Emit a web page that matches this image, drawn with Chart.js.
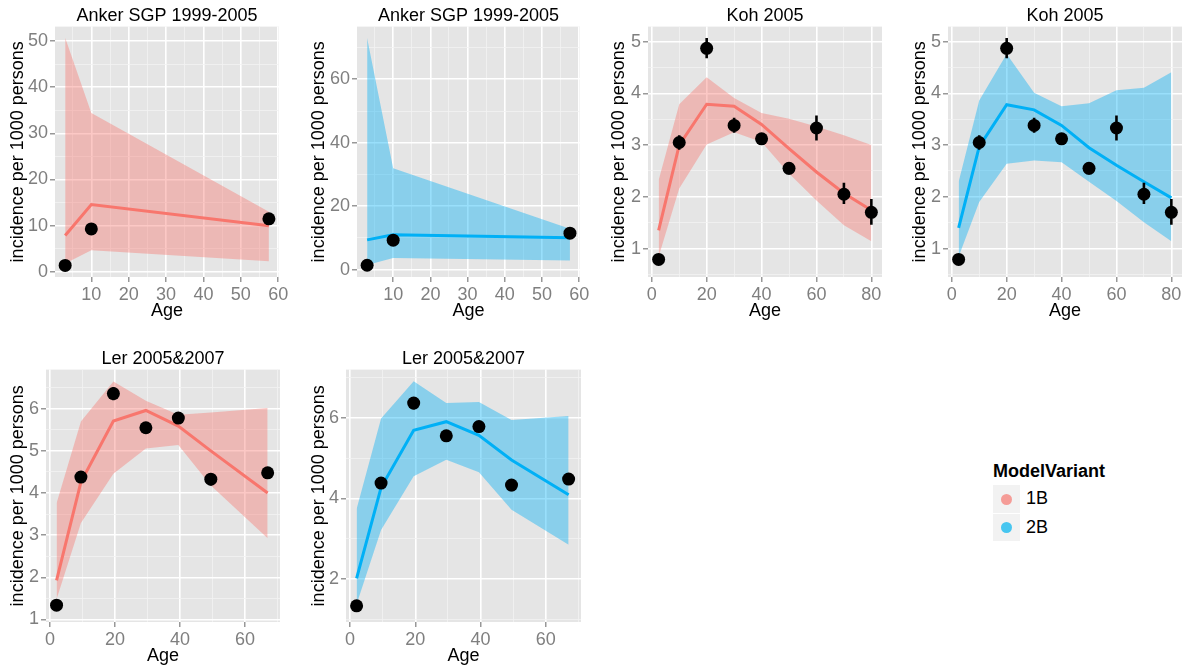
<!DOCTYPE html>
<html><head><meta charset="utf-8">
<script src="https://cdn.jsdelivr.net/npm/chart.js@4.4.0/dist/chart.umd.min.js"></script>
<style>
body{margin:0;background:#fff;width:1188px;height:669px;position:relative;overflow:hidden;font-family:"Liberation Sans",Arial,sans-serif;}
.pc{position:absolute;}
.lg{position:absolute;font-size:18px;line-height:21px;color:#000;white-space:nowrap;}
.key{position:absolute;background:#F2F2F2;width:27px;}
.dot{position:absolute;width:11px;height:11px;border-radius:50%;left:8px;}
</style></head><body>
<div class="lg" style="left:993px;top:461px;font-weight:bold;">ModelVariant</div>
<div class="key" style="left:993px;top:485px;height:28px;"><div class="dot" style="top:8.5px;background:#F59C97;"></div></div>
<div class="lg" style="left:1026px;top:488px;">1B</div>
<div class="key" style="left:993px;top:514px;height:27px;"><div class="dot" style="top:8px;background:#47C6F0;"></div></div>
<div class="lg" style="left:1026px;top:517px;">2B</div>
<script>
// ---------- data ----------
const ankerAge = [3, 10, 57.5];
const ankerObs = [1.4, 9.3, 11.5];
const ankerObsLo = [1.2, 9.0, 11.2];
const ankerObsHi = [1.6, 9.6, 11.8];
const anker1B_mid = [7.9, 14.6, 10.0];
const anker1B_lo = [1.8, 4.7, 2.3];
const anker1B_hi = [50.7, 34.4, 13.0];
const anker2B_mid = [9.4, 11.0, 10.1];
const anker2B_lo = [1.5, 3.7, 2.9];
const anker2B_hi = [73.0, 32.0, 12.9];

const kohAge = [2.5, 10, 20, 30, 40, 50, 60, 70, 80];
const kohObs = [0.79, 3.05, 4.87, 3.38, 3.12, 2.55, 3.33, 2.05, 1.70];
const kohObsLo = [0.72, 2.91, 4.68, 3.24, 3.01, 2.43, 3.09, 1.86, 1.46];
const kohObsHi = [0.86, 3.19, 5.07, 3.53, 3.23, 2.67, 3.57, 2.27, 1.96];
const koh1B_mid = [1.35, 3.0, 3.79, 3.75, 3.40, 2.93, 2.48, 2.07, 1.74];
const koh1B_lo = [0.84, 2.16, 3.01, 3.25, 3.06, 2.45, 1.93, 1.45, 1.14];
const koh1B_hi = [2.32, 3.79, 4.31, 3.91, 3.62, 3.51, 3.36, 3.19, 3.0];
const koh2B_mid = [1.40, 2.97, 3.78, 3.68, 3.38, 2.95, 2.61, 2.29, 1.98];
const koh2B_lo = [0.84, 1.90, 2.64, 2.70, 2.67, 2.29, 1.92, 1.51, 1.14];
const koh2B_hi = [2.29, 3.86, 4.76, 4.01, 3.75, 3.81, 4.06, 4.11, 4.41];

const lerAge = [2, 9.5, 19.5, 29.5, 39.5, 49.5, 67];
const lerObs = [1.34, 4.38, 6.36, 5.55, 5.78, 4.33, 4.48];
const lerObsLo = [1.24, 4.24, 6.20, 5.46, 5.66, 4.18, 4.37];
const lerObsHi = [1.48, 4.50, 6.51, 5.66, 5.92, 4.46, 4.58];
const ler1B_mid = [1.93, 4.26, 5.71, 5.96, 5.59, 5.0, 4.0];
const ler1B_lo = [1.48, 3.29, 4.46, 5.06, 5.14, 4.18, 2.93];
const ler1B_hi = [3.76, 5.70, 6.65, 6.19, 5.86, 5.91, 6.02];
const ler2B_mid = [2.02, 4.27, 5.69, 5.90, 5.56, 4.95, 4.09];
const ler2B_lo = [1.38, 3.22, 4.55, 4.96, 4.65, 3.72, 2.85];
const ler2B_hi = [3.74, 5.98, 6.90, 6.36, 6.39, 5.94, 6.04];

// tick labels
const ankerXTicks = [10, 20, 30, 40, 50, 60];
const anker1BYTicks = [0, 10, 20, 30, 40, 50];
const anker2BYTicks = [0, 20, 40, 60];
const kohXTicks = [0, 20, 40, 60, 80];
const kohYTicks = [1, 2, 3, 4, 5];
const lerXTicks = [0, 20, 40, 60];
const ler1BYTicks = [1, 2, 3, 4, 5, 6];
const ler2BYTicks = [2, 4, 6];

const modelNames = ['1B', '2B'];
const xTitle = 'Age';
const yTitle = 'incidence per 1000 persons';

// ---------- styling / layout ----------
const FONT = '"Liberation Sans", Arial, sans-serif';
Chart.defaults.font.family = FONT;
const COL = {
  '1B': {line: '#F8766D', fill: 'rgba(248,118,109,0.4)'},
  '2B': {line: '#00B0F6', fill: 'rgba(0,176,246,0.4)'}
};

function minorsOf(major, min, max) {
  const step = major[1] - major[0];
  const out = [];
  for (let v = major[0] - step / 2; v <= max + 1e-9; v += step) {
    if (v >= min - 1e-9) out.push(+v.toFixed(6));
  }
  return out;
}

const panels = [
  {title: 'Anker SGP 1999-2005', model: '1B', age: ankerAge, obs: ankerObs, obsLo: ankerObsLo, obsHi: ankerObsHi,
   mid: anker1B_mid, lo: anker1B_lo, hi: anker1B_hi, xT: ankerXTicks, yT: anker1BYTicks,
   box: {L: 55, T: 26.5, R: 279, B: 277, tc: 17.5}, xr: [0.28, 60.2], yr: [-1.1, 53.1]},
  {title: 'Anker SGP 1999-2005', model: '2B', age: ankerAge, obs: ankerObs, obsLo: ankerObsLo, obsHi: ankerObsHi,
   mid: anker2B_mid, lo: anker2B_lo, hi: anker2B_hi, xT: ankerXTicks, yT: anker2BYTicks,
   box: {L: 357, T: 26.5, R: 580, B: 277, tc: 319}, xr: [0.28, 60.2], yr: [-2.3, 76.6]},
  {title: 'Koh 2005', model: '1B', age: kohAge, obs: kohObs, obsLo: kohObsLo, obsHi: kohObsHi,
   mid: koh1B_mid, lo: koh1B_lo, hi: koh1B_hi, xT: kohXTicks, yT: kohYTicks,
   box: {L: 648, T: 26.5, R: 882, B: 277, tc: 619}, xr: [-1.375, 83.875], yr: [0.45, 5.29]},
  {title: 'Koh 2005', model: '2B', age: kohAge, obs: kohObs, obsLo: kohObsLo, obsHi: kohObsHi,
   mid: koh2B_mid, lo: koh2B_lo, hi: koh2B_hi, xT: kohXTicks, yT: kohYTicks,
   box: {L: 948, T: 26.5, R: 1182, B: 277, tc: 920}, xr: [-1.375, 83.875], yr: [0.45, 5.29]},
  {title: 'Ler 2005&2007', model: '1B', age: lerAge, obs: lerObs, obsLo: lerObsLo, obsHi: lerObsHi,
   mid: ler1B_mid, lo: ler1B_lo, hi: ler1B_hi, xT: lerXTicks, yT: ler1BYTicks,
   box: {L: 46, T: 370, R: 280, B: 621.5, tc: 17.5}, xr: [-1.25, 70.8], yr: [0.94, 6.93]},
  {title: 'Ler 2005&2007', model: '2B', age: lerAge, obs: lerObs, obsLo: lerObsLo, obsHi: lerObsHi,
   mid: ler2B_mid, lo: ler2B_lo, hi: ler2B_hi, xT: lerXTicks, yT: ler2BYTicks,
   box: {L: 346, T: 370, R: 581, B: 621.5, tc: 319}, xr: [-1.25, 70.8], yr: [0.94, 7.19]}
];

const bgPlugin = {
  id: 'panelBg',
  beforeDraw(chart) {
    const {ctx, chartArea: a} = chart;
    ctx.save();
    ctx.fillStyle = '#E5E5E5';
    ctx.fillRect(a.left, a.top, a.right - a.left, a.bottom - a.top);
    ctx.restore();
  }
};

function isMajor(list, v) { return list.some(m => Math.abs(m - v) < 1e-6); }

function axis(major, range, titleText, fitFn) {
  const all = major.concat(minorsOf(major, range[0], range[1])).sort((a, b) => a - b);
  return {
    type: 'linear', min: range[0], max: range[1],
    afterBuildTicks: s => { s.ticks = all.map(v => ({value: v})); },
    afterFit: fitFn,
    ticks: {
      color: '#7F7F7F', font: {size: 18}, padding: 2, autoSkip: false, maxRotation: 0, includeBounds: false,
      callback: v => isMajor(major, v) ? String(v) : ''
    },
    grid: {
      color: c => (c.tick && isMajor(major, c.tick.value)) ? '#FFFFFF' : '#F2F2F2',
      lineWidth: c => (c.tick && isMajor(major, c.tick.value)) ? 1.6 : 0.8,
      tickColor: c => (c.tick && isMajor(major, c.tick.value)) ? '#7F7F7F' : 'rgba(0,0,0,0)',
      tickLength: 5, tickWidth: 1.2, drawTicks: true
    },
    border: {display: false},
    title: {display: true, text: titleText, color: '#000', font: {size: 18}, padding: {top: 0, bottom: 0}}
  };
}

function makePanel(p) {
  const b = p.box;
  const cl = Math.round(b.tc - 11);
  const ct = Math.round(b.T - 25.6);
  const yW = Math.round(b.L - cl);
  const padR = 16;
  const w = Math.round(b.R - cl + padR);
  const h = Math.round(b.B - ct + 45);
  const div = document.createElement('div');
  div.className = 'pc';
  div.style.left = cl + 'px';
  div.style.top = ct + 'px';
  const cv = document.createElement('canvas');
  cv.width = w; cv.height = h;
  cv.style.width = w + 'px'; cv.style.height = h + 'px';
  div.appendChild(cv);
  document.body.appendChild(div);

  const c = COL[p.model];
  const datasets = [];
  // observed points (top layer)
  datasets.push({
    data: p.age.map((x, i) => ({x, y: p.obs[i]})),
    showLine: false, pointRadius: 6.5, pointBackgroundColor: '#000', pointBorderWidth: 0,
    borderColor: '#000'
  });
  // error bars
  p.age.forEach((x, i) => {
    datasets.push({
      data: [{x, y: p.obsLo[i]}, {x, y: p.obsHi[i]}],
      borderColor: '#000', borderWidth: 2.6, pointRadius: 0, fill: false
    });
  });
  // model line
  datasets.push({
    data: p.age.map((x, i) => ({x, y: p.mid[i]})),
    borderColor: c.line, borderWidth: 3, pointRadius: 0, fill: false, tension: 0
  });
  // ribbon
  datasets.push({
    data: p.age.map((x, i) => ({x, y: p.hi[i]})),
    borderColor: 'rgba(0,0,0,0)', borderWidth: 1, pointRadius: 0, fill: '+1', backgroundColor: c.fill, tension: 0
  });
  datasets.push({
    data: p.age.map((x, i) => ({x, y: p.lo[i]})),
    borderColor: 'rgba(0,0,0,0)', borderWidth: 1, pointRadius: 0, fill: false, tension: 0
  });

  new Chart(cv, {
    type: 'line',
    data: {datasets},
    plugins: [bgPlugin],
    options: {
      responsive: false, animation: false, events: [],
      layout: {padding: {left: 0, right: padR, top: 0, bottom: 0}},
      plugins: {
        legend: {display: false}, tooltip: {enabled: false},
        title: {display: true, fullSize: false, text: p.title, color: '#000', font: {size: 18, weight: 'normal'}, padding: {top: 4, bottom: 0}}
      },
      scales: {
        x: axis(p.xT, p.xr, xTitle, s => { s.height = 45; }),
        y: axis(p.yT, p.yr, yTitle, s => { s.width = yW; })
      }
    }
  });
}

panels.forEach(makePanel);
</script>
</body></html>
